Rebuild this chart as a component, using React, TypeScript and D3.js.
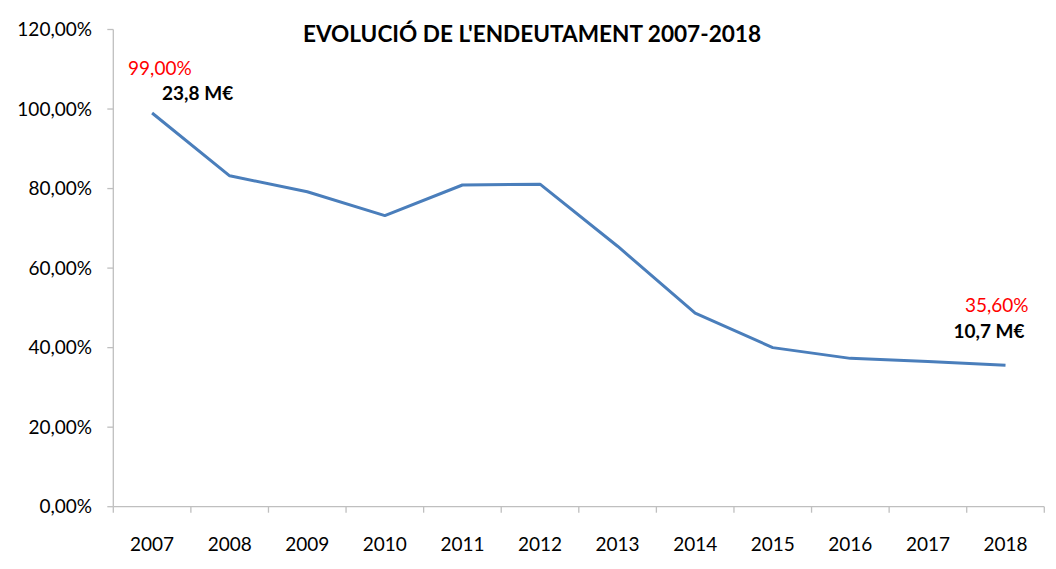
import React from "react";
import * as d3 from "d3";

const years = ["2007","2008","2009","2010","2011","2012","2013","2014","2015","2016","2017","2018"];
const ratio = [99.0, 83.2, 79.2, 73.2, 80.9, 81.1, 65.5, 48.7, 40.0, 37.3, 36.5, 35.6];
const yTicks = [0, 20, 40, 60, 80, 100, 120];
const title = "EVOLUCIÓ DE L'ENDEUTAMENT 2007-2018";
const annotations = [
  { idx: 0, pct: "99,00%", amount: "23,8 M€" },
  { idx: 11, pct: "35,60%", amount: "10,7 M€" },
];

const W = 1056, H = 569;
const left = 113.3, right = 1044.3, top = 29.5, bottom = 506.7;
const font = "Lato, 'Open Sans', sans-serif";
const fs = 19;

export default function App() {
  const x = d3.scaleBand().domain(years).range([left, right]).paddingInner(0).paddingOuter(0);
  const y = d3.scaleLinear().domain([0, 120]).range([bottom, top]);
  const cx = (yr: string) => (x(yr) as number) + x.bandwidth() / 2;
  const line = d3.line<number>().x((_, i) => cx(years[i])).y((d) => y(d));
  const fmt = (v: number) => v.toFixed(2).replace(".", ",") + "%";
  const axisColor = "#bfbfbf";
  const boundaries = d3.range(years.length + 1).map((i) => left + i * x.bandwidth());

  return (
    <svg width={W} height={H} style={{ position: "absolute", left: 0, top: 0, background: "#fff" }}>
      <text x={532} y={42} textAnchor="middle" fontFamily={font} fontWeight="bold" fontSize={22.6} fill="#000">{title}</text>
      <line x1={left} x2={left} y1={top} y2={bottom} stroke={axisColor} strokeWidth={1.3} />
      {yTicks.map((t) => (
        <g key={t}>
          <line x1={left - 6} x2={left} y1={y(t)} y2={y(t)} stroke={axisColor} strokeWidth={1.3} />
          <text x={92} y={y(t)} dy="0.35em" textAnchor="end" fontFamily={font} fontSize={fs} fill="#000">{fmt(t)}</text>
        </g>
      ))}
      <line x1={left} x2={right} y1={bottom} y2={bottom} stroke={axisColor} strokeWidth={1.3} />
      {boundaries.map((b, i) => (
        <line key={i} x1={b} x2={b} y1={bottom} y2={bottom + 6} stroke={axisColor} strokeWidth={1.3} />
      ))}
      {years.map((yr) => (
        <text key={yr} x={cx(yr)} y={551} textAnchor="middle" fontFamily={font} fontSize={fs} fill="#000">{yr}</text>
      ))}
      <path d={line(ratio) || ""} fill="none" stroke="#4a7ebb" strokeWidth={3} strokeLinejoin="round" />
      {annotations.map((a) => {
        const px = cx(years[a.idx]);
        const first = a.idx === 0;
        return (
          <g key={a.idx}>
            <text x={first ? px - 24 : px + 23} y={first ? 75 : 312} textAnchor={first ? "start" : "end"} fontFamily={font} fontSize={fs} fill="#ff0000">{a.pct}</text>
            <text x={first ? px + 10 : px + 19} y={first ? 100 : 338} textAnchor={first ? "start" : "end"} fontFamily={font} fontWeight="bold" fontSize={fs} fill="#000">{a.amount}</text>
          </g>
        );
      })}
    </svg>
  );
}
